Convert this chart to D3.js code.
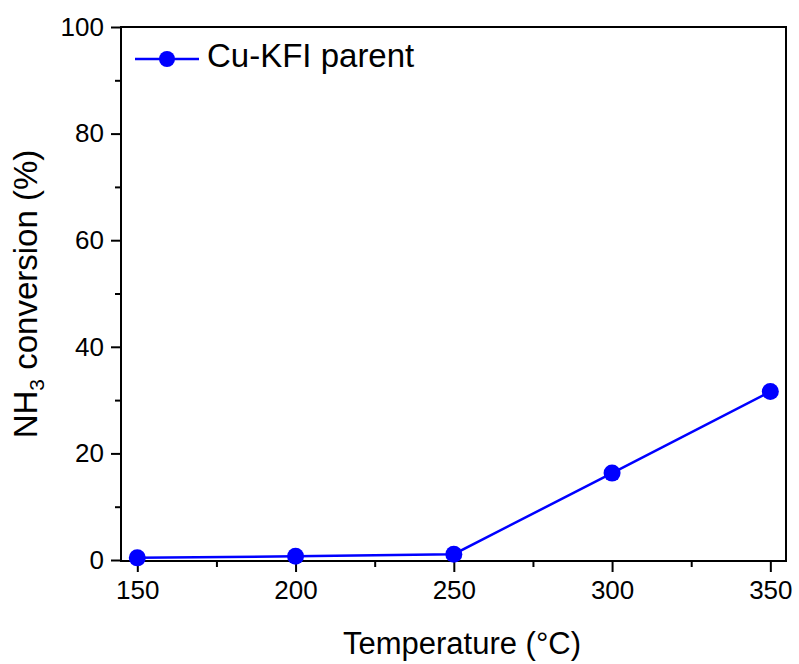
<!DOCTYPE html>
<meta charset="utf-8">
<style>
body{ margin:0; background-color:white; }
text{ font-family:"Liberation Sans", Arial, sans-serif; fill:#000; }
</style>
<body>
<svg class="chart"></svg>
<script src="https://cdn.jsdelivr.net/npm/d3@7"></script>
<script>
// data
var temps = [150, 200, 250, 300, 350];
var conversion = [0.4, 0.7, 1.1, 16.3, 31.6];
var seriesName = "Cu-KFI parent";
var xTicks = [150, 200, 250, 300, 350];
var yTicks = [0, 20, 40, 60, 80, 100];
</script>
<script>
var w = 799, h = 664;
var plotL = 121, plotR = 786, plotT = 27, plotB = 560;

var svg = d3.select('svg').attr('width', w).attr('height', h);

var x = d3.scaleLinear().domain([144.85, 354.95]).range([plotL, plotR]);
var y = d3.scaleLinear().domain([0, 100]).range([plotB, plotT]);

// frame
svg.append('rect')
  .attr('x', plotL).attr('y', plotT)
  .attr('width', plotR - plotL).attr('height', plotB + 1 - plotT)
  .attr('fill', 'none').attr('stroke', '#000').attr('stroke-width', 2);

// x axis
var xAxis = svg.append('g').attr('transform', 'translate(0,' + (plotB + 1) + ')');
xAxis.call(d3.axisBottom(x).tickValues(xTicks).tickSize(11).tickPadding(9).tickFormat(d3.format('d')));
xAxis.append('g').call(d3.axisBottom(x).tickValues([175, 225, 275, 325]).tickSize(6).tickFormat(''));
xAxis.selectAll('.domain').remove();
xAxis.selectAll('line').attr('stroke', '#000').attr('stroke-width', 2);
xAxis.selectAll('text').style('font-size', '26px').attr('font-family', '"Liberation Sans", Arial, sans-serif');

// y axis
var yAxis = svg.append('g').attr('transform', 'translate(' + plotL + ',0)');
yAxis.call(d3.axisLeft(y).tickValues(yTicks).tickSize(10).tickPadding(7));
yAxis.append('g').call(d3.axisLeft(y).tickValues([10, 30, 50, 70, 90]).tickSize(6).tickFormat(''));
yAxis.selectAll('.domain').remove();
yAxis.selectAll('line').attr('stroke', '#000').attr('stroke-width', 2);
yAxis.selectAll('text').style('font-size', '26px').attr('font-family', '"Liberation Sans", Arial, sans-serif');

// series
var pts = temps.map(function (t, i) { return [t, conversion[i]]; });
svg.append('path')
  .datum(pts)
  .attr('fill', 'none')
  .attr('stroke', '#0000ff')
  .attr('stroke-width', 2.5)
  .attr('d', d3.line().x(function (d) { return x(d[0]); }).y(function (d) { return y(d[1]); }));

svg.selectAll('circle.pt')
  .data(pts)
  .enter()
  .append('circle')
  .attr('class', 'pt')
  .attr('cx', function (d) { return x(d[0]); })
  .attr('cy', function (d) { return y(d[1]); })
  .attr('r', 8.5)
  .attr('fill', '#0000ff');

// legend
var lg = svg.append('g');
lg.append('line').attr('x1', 135).attr('x2', 199).attr('y1', 59).attr('y2', 59)
  .attr('stroke', '#0000ff').attr('stroke-width', 2.5);
lg.append('circle').attr('cx', 167).attr('cy', 59).attr('r', 8).attr('fill', '#0000ff');
lg.append('text').attr('x', 207).attr('y', 67).style('font-size', '33px').text(seriesName);

// axis titles
svg.append('text')
  .attr('x', 462).attr('y', 654)
  .attr('text-anchor', 'middle')
  .style('font-size', '31px')
  .text('Temperature (°C)');

var yt = svg.append('text')
  .attr('transform', 'translate(37,294) rotate(-90)')
  .attr('text-anchor', 'middle')
  .style('font-size', '33px');
yt.append('tspan').text('NH');
yt.append('tspan').style('font-size', '21px').attr('dy', 7).text('3');
yt.append('tspan').attr('dy', -7).text(' conversion (%)');
</script>
</body>
